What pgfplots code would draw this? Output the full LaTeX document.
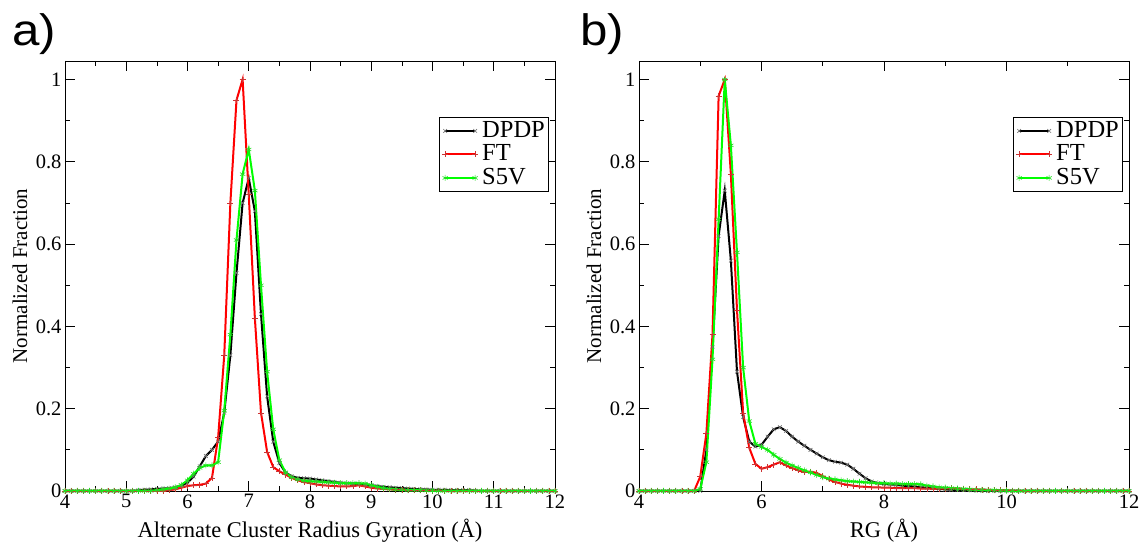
\documentclass[border=0pt]{standalone}
\usepackage{fontspec}
\setmainfont{Liberation Serif}
\newfontfamily\labelfont{Liberation Sans}
\usepackage{pgfplots}
\usepackage{pgfplotstable}
\pgfplotsset{compat=1.18}

\pgfplotstableread{
x dpdp ft s5v
4.0 0 0 0
4.1 0 0 0
4.2 0 0 0
4.3 0 0 0
4.4 0 0 0
4.5 0 0 0
4.6 0 0 0
4.7 0 0 0
4.8 0 0 0
4.9 0 0 0
5.0 0 0 0
5.1 0 0 0
5.2 0.002 0 0
5.3 0.003 0 0
5.4 0.004 0 0
5.5 0.005 0 0.002
5.6 0.006 0 0.004
5.7 0.007 0.002 0.006
5.8 0.009 0.004 0.009
5.9 0.013 0.008 0.015
6.0 0.020 0.012 0.026
6.1 0.035 0.014 0.042
6.2 0.060 0.015 0.056
6.3 0.085 0.018 0.062
6.4 0.100 0.032 0.062
6.5 0.120 0.130 0.070
6.6 0.190 0.330 0.195
6.7 0.330 0.700 0.380
6.8 0.530 0.950 0.610
6.9 0.700 1.000 0.770
7.0 0.760 0.720 0.830
7.1 0.680 0.420 0.730
7.2 0.430 0.190 0.500
7.3 0.230 0.095 0.290
7.4 0.120 0.058 0.150
7.5 0.068 0.048 0.075
7.6 0.045 0.040 0.045
7.7 0.036 0.032 0.033
7.8 0.032 0.026 0.028
7.9 0.031 0.022 0.025
8.0 0.030 0.019 0.024
8.1 0.028 0.016 0.023
8.2 0.026 0.014 0.022
8.3 0.024 0.013 0.021
8.4 0.022 0.012 0.020
8.5 0.020 0.011 0.019
8.6 0.019 0.011 0.019
8.7 0.018 0.012 0.019
8.8 0.017 0.014 0.019
8.9 0.016 0.011 0.018
9.0 0.014 0.008 0.014
9.1 0.012 0.006 0.010
9.2 0.010 0.005 0.007
9.3 0.009 0.004 0.005
9.4 0.008 0.003 0.004
9.5 0.007 0.003 0.003
9.6 0.006 0.002 0.002
9.7 0.005 0.002 0.002
9.8 0.004 0.002 0.002
9.9 0.004 0.001 0.001
10.0 0.003 0.001 0.001
10.1 0.003 0.001 0
10.2 0.003 0 0
10.3 0.002 0 0
10.4 0.002 0 0
10.5 0.002 0 0
10.6 0.002 0 0
10.7 0.001 0 0
10.8 0 0 0
10.9 0 0 0
11.0 0 0 0
11.1 0 0 0
11.2 0 0 0
11.3 0 0 0
11.4 0 0 0
11.5 0 0 0
11.6 0 0 0
11.7 0 0 0
11.8 0 0 0
11.9 0 0 0
12.0 0 0 0
}\dataA

\pgfplotstableread{
x dpdp ft s5v
4.0 0 0 0
4.1 0 0 0
4.2 0 0 0
4.3 0 0 0
4.4 0 0 0
4.5 0 0 0
4.6 0 0 0
4.7 0 0 0
4.8 0 0 0
4.9 0 0 0
5.0 0 0.035 0.005
5.1 0.100 0.140 0.070
5.2 0.350 0.380 0.320
5.3 0.620 0.960 0.660
5.4 0.730 1.000 1.000
5.5 0.560 0.770 0.840
5.6 0.290 0.440 0.580
5.7 0.180 0.190 0.300
5.8 0.120 0.105 0.170
5.9 0.108 0.066 0.115
6.0 0.112 0.054 0.107
6.1 0.132 0.058 0.100
6.2 0.150 0.064 0.088
6.3 0.155 0.070 0.078
6.4 0.146 0.062 0.069
6.5 0.132 0.056 0.062
6.6 0.120 0.050 0.056
6.7 0.110 0.046 0.050
6.8 0.100 0.047 0.045
6.9 0.091 0.044 0.039
7.0 0.082 0.036 0.034
7.1 0.075 0.028 0.030
7.2 0.071 0.022 0.028
7.3 0.069 0.018 0.026
7.4 0.064 0.015 0.024
7.5 0.054 0.013 0.023
7.6 0.042 0.011 0.022
7.7 0.031 0.010 0.021
7.8 0.023 0.009 0.020
7.9 0.019 0.009 0.019
8.0 0.017 0.008 0.019
8.1 0.016 0.008 0.018
8.2 0.015 0.007 0.018
8.3 0.013 0.007 0.017
8.4 0.012 0.007 0.017
8.5 0.011 0.007 0.017
8.6 0.009 0.006 0.016
8.7 0.008 0.006 0.013
8.8 0.007 0.005 0.011
8.9 0.005 0.006 0.009
9.0 0.004 0.006 0.008
9.1 0.003 0.007 0.007
9.2 0.003 0.006 0.006
9.3 0.002 0.005 0.005
9.4 0.002 0.004 0.004
9.5 0.001 0.004 0.003
9.6 0.001 0.003 0.003
9.7 0 0.003 0.002
9.8 0 0.002 0.002
9.9 0 0.002 0.001
10.0 0 0.002 0.001
10.1 0 0.001 0
10.2 0 0.001 0
10.3 0 0 0
10.4 0 0 0
10.5 0 0 0
10.6 0 0 0
10.7 0 0 0
10.8 0 0 0
10.9 0 0 0
11.0 0 0 0
11.1 0 0 0
11.2 0 0 0
11.3 0 0 0
11.4 0 0 0
11.5 0 0 0
11.6 0 0 0
11.7 0 0 0
11.8 0 0 0
11.9 0 0 0
12.0 0 0 0
}\dataB

\definecolor{xgreen}{rgb}{0,1,0}
\definecolor{xred}{rgb}{1,0,0}

\pgfplotsset{
  rgstyle/.style={
    scale only axis, width=490pt, height=430pt,
    xmin=4, xmax=12, ymin=0, ymax=1.045,
    clip=false,
    axis line style={black, line width=0.8pt},
    tick align=inside, major tick length=10pt, minor tick length=5pt,
    every tick/.style={black, line width=0.7pt},
    ytick={0,0.2,0.4,0.6,0.8,1}, minor y tick num=1,
    yticklabels={0,0.2,0.4,0.6,0.8,1},
    minor x tick num=1,
    tick label style={font=\fontsize{20.5}{20.5}\selectfont},
    /pgf/number format/assume math mode=true,
    every axis y label/.style={at={(rel axis cs:-0.092,0.5)}, rotate=90, anchor=center, font=\fontsize{21}{21}\selectfont},
    every axis x label/.style={at={(rel axis cs:0.5,-0.109)}, anchor=base, font=\fontsize{22.5}{22.5}\selectfont},
    ylabel={Normalized Fraction},
    legend style={at={(0.986,0.870)}, anchor=north east, font=\fontsize{24.5}{24.5}\selectfont,
      draw=black, line width=0.6pt, inner xsep=3pt, inner ysep=2pt,
      row sep=0pt, column sep=4pt,
      nodes={inner sep=0pt, text height=18pt, text depth=5.5pt}, cells={anchor=west}},
    legend image code/.code={\draw[#1] plot coordinates {(0pt,0pt) (30pt,0pt)};},
  },
  sdpdp/.style={black, line width=2pt, mark=x, mark size=2.6pt, mark options={draw=black!55, line width=0.6pt}},
  sft/.style={xred, line width=2pt, mark=+, mark size=3pt, mark options={draw=red!60!gray, line width=0.6pt}},
  ss5v/.style={xgreen, line width=2pt, mark=asterisk, mark size=3pt, mark options={draw=green!75!gray, line width=0.6pt}},
}

\begin{document}
\begin{tikzpicture}
\useasboundingbox (0pt,0pt) rectangle (1141pt,543pt);
\begin{axis}[rgstyle, at={(65pt,52pt)}, anchor=south west,
  xtick={4,5,6,7,8,9,10,11,12},
  xlabel={Alternate Cluster Radius Gyration (Å)}]
\addplot[sdpdp] table[x=x, y=dpdp] {\dataA};
\addlegendentry{DPDP}
\addplot[sft] table[x=x, y=ft] {\dataA};
\addlegendentry{FT}
\addplot[ss5v] table[x=x, y=s5v] {\dataA};
\addlegendentry{S5V}
\end{axis}
\begin{axis}[rgstyle, at={(639pt,52pt)}, anchor=south west,
  xtick={4,6,8,10,12},
  xlabel={RG (Å)}]
\addplot[sdpdp] table[x=x, y=dpdp] {\dataB};
\addlegendentry{DPDP}
\addplot[sft] table[x=x, y=ft] {\dataB};
\addlegendentry{FT}
\addplot[ss5v] table[x=x, y=s5v] {\dataB};
\addlegendentry{S5V}
\end{axis}
\node[anchor=base west, inner sep=0pt, xscale=1.12] at (12pt,497pt) {\labelfont\fontsize{44}{44}\selectfont a)};
\node[anchor=base west, inner sep=0pt, xscale=1.12] at (580pt,497pt) {\labelfont\fontsize{44}{44}\selectfont b)};
\end{tikzpicture}
\end{document}
